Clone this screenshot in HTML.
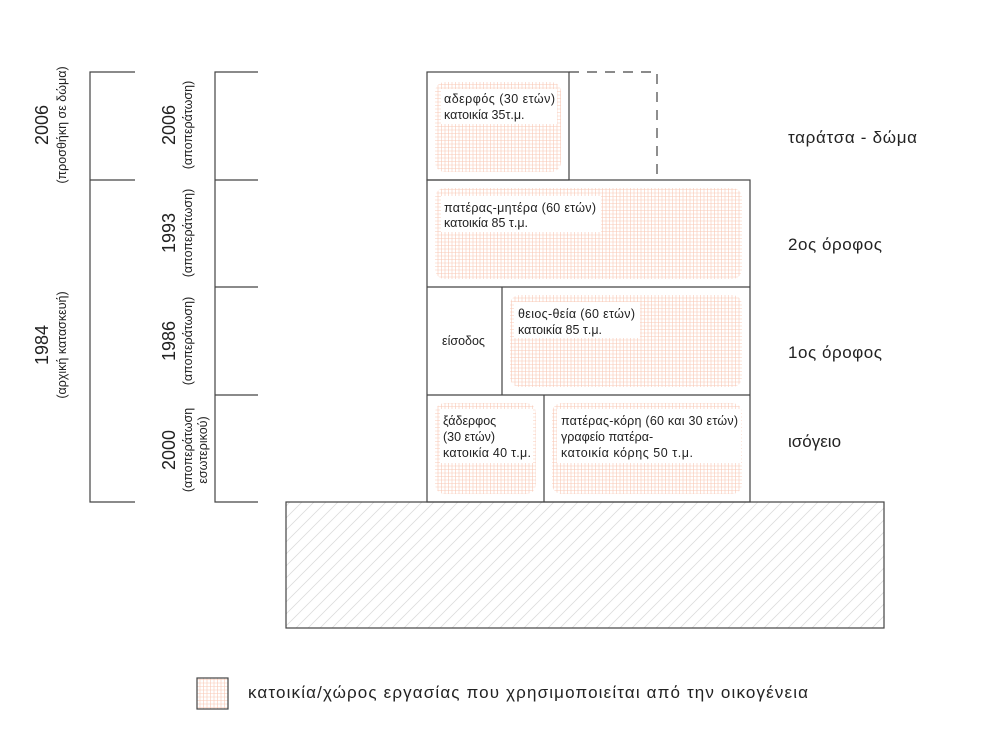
<!DOCTYPE html>
<html><head><meta charset="utf-8"><style>
html,body{margin:0;padding:0;background:#fff}
svg{display:block}
text{font-family:"Liberation Sans","DejaVu Sans",sans-serif;fill:#222}
</style></head><body>
<svg width="1000" height="744" viewBox="0 0 1000 744" xmlns="http://www.w3.org/2000/svg">
<defs>
<pattern id="g" width="3.5" height="3.5" patternUnits="userSpaceOnUse">
<rect width="3.5" height="3.5" fill="#fff"/>
<path d="M0 0.5H3.5M0.5 0V3.5" stroke="#f9c9b6" stroke-width="0.6"/>
</pattern>
<pattern id="h" width="12" height="12" patternUnits="userSpaceOnUse">
<path d="M0 12L12 0M-3 3L3 -3M9 15L15 9" stroke="#ddd" stroke-width="0.8"/>
</pattern>
</defs>
<g stroke="#444" stroke-width="1.2" fill="none">
<path d="M135 72H90V502H135M90 180H135"/>
<path d="M258 72H215V502H258M215 180H258M215 287H258M215 395H258"/>
</g>
<g fill="url(#g)">
<rect x="435" y="82" width="126" height="90" rx="10"/>
<rect x="435" y="188" width="307" height="91" rx="10"/>
<rect x="510" y="295" width="232" height="92" rx="10"/>
<rect x="435" y="403" width="101" height="91" rx="10"/>
<rect x="552" y="403" width="190" height="91" rx="10"/>
</g>
<g fill="#fff">
<rect x="441" y="89" width="116" height="35"/>
<rect x="441" y="196" width="160" height="36"/>
<rect x="514" y="302" width="126" height="36"/>
<rect x="440" y="409" width="93" height="54"/>
<rect x="557" y="409" width="184" height="54"/>
</g>
<rect x="286" y="502" width="598" height="126" fill="url(#h)" stroke="#444" stroke-width="1.2"/>
<g stroke="#444" stroke-width="1.2" fill="none">
<rect x="427" y="72" width="142" height="108"/>
<path d="M569 72H657V180" stroke-dasharray="10 8"/>
<rect x="427" y="180" width="323" height="322"/>
<path d="M427 287H750M427 395H750M502 287V395M544 395V502"/>
</g>
<g font-size="12.5">
<text x="444" y="103" textLength="111">αδερφός (30 ετών)</text>
<text x="444" y="119">κατοικία 35τ.μ.</text>
<text x="444" y="212" textLength="152">πατέρας-μητέρα (60 ετών)</text>
<text x="444" y="227">κατοικία 85 τ.μ.</text>
<text x="518" y="318" textLength="117">θειος-θεία (60 ετών)</text>
<text x="518" y="334">κατοικία 85 τ.μ.</text>
<text x="442" y="345">είσοδος</text>
<text x="443" y="425">ξάδερφος</text>
<text x="443" y="441">(30 ετών)</text>
<text x="443" y="457" textLength="88">κατοικία 40 τ.μ.</text>
<text x="561" y="425" textLength="177">πατέρας-κόρη (60 και 30 ετών)</text>
<text x="561" y="441">γραφείο πατέρα-</text>
<text x="561" y="457" textLength="132">κατοικία κόρης 50 τ.μ.</text>
</g>
<g font-size="17">
<text x="788" y="143" textLength="129">ταράτσα - δώμα</text>
<text x="788" y="250" textLength="94">2ος όροφος</text>
<text x="788" y="358" textLength="94">1ος όροφος</text>
<text x="788" y="447">ισόγειο</text>
</g>
<g text-anchor="middle">
<text transform="translate(48,125) rotate(-90)" font-size="18">2006</text>
<text transform="translate(66,125) rotate(-90)" font-size="12.5">(προσθήκη σε δώμα)</text>
<text transform="translate(48,345) rotate(-90)" font-size="18">1984</text>
<text transform="translate(66,345) rotate(-90)" font-size="12.5">(αρχική κατασκευή)</text>
<text transform="translate(175,125) rotate(-90)" font-size="18">2006</text>
<text transform="translate(192,125) rotate(-90)" font-size="12.5">(αποπεράτωση)</text>
<text transform="translate(175,233) rotate(-90)" font-size="18">1993</text>
<text transform="translate(192,233) rotate(-90)" font-size="12.5">(αποπεράτωση)</text>
<text transform="translate(175,341) rotate(-90)" font-size="18">1986</text>
<text transform="translate(192,341) rotate(-90)" font-size="12.5">(αποπεράτωση)</text>
<text transform="translate(175,450) rotate(-90)" font-size="18">2000</text>
<text transform="translate(192,450) rotate(-90)" font-size="12.5">(αποπεράτωση</text>
<text transform="translate(207,450) rotate(-90)" font-size="12.5">εσωτερικού)</text>
</g>
<rect x="197" y="678" width="31" height="31" fill="url(#g)" stroke="#444" stroke-width="1.2"/>
<text x="248" y="698" font-size="17" textLength="560">κατοικία/χώρος εργασίας που χρησιμοποιείται από την οικογένεια</text>
</svg>
</body></html>
